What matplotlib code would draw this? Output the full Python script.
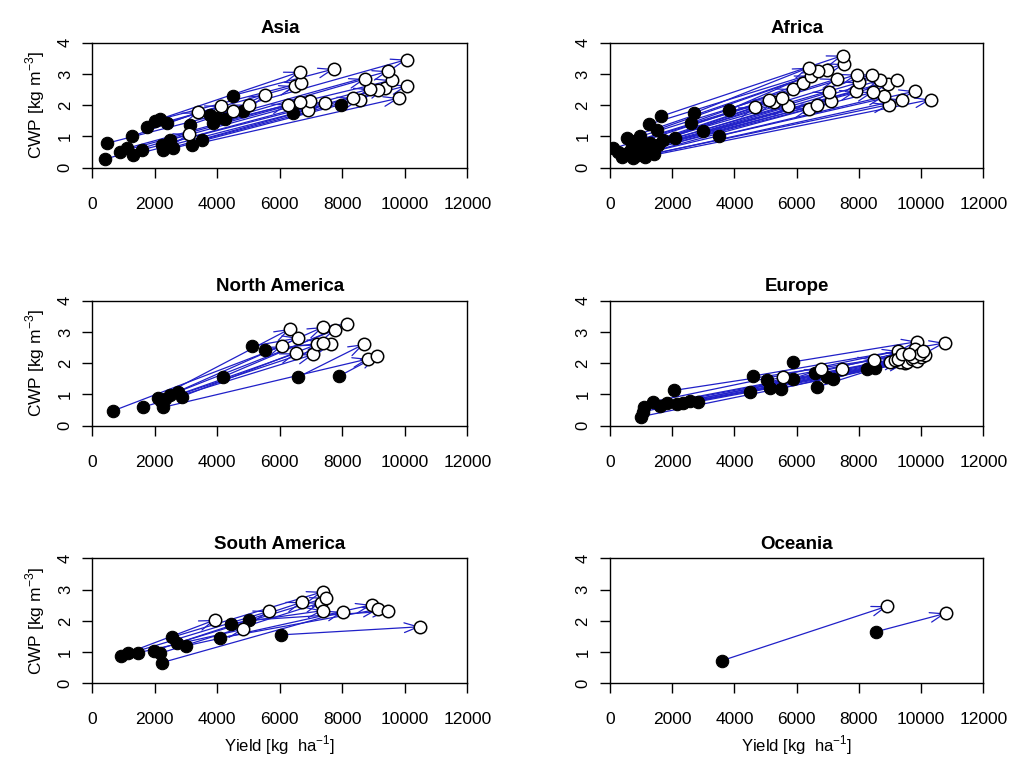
import numpy as np
import matplotlib
matplotlib.use("Agg")
import matplotlib.pyplot as plt
from matplotlib import font_manager

# current (black) -> potential (white) yield [kg/ha] and CWP [kg/m3], one arrow per site
asia_yield_now = [3179, 2592, 2272, 3499, 7957, 1312, 6432, 405, 1579, 2219, 2485, 885, 1099,
                  3872, 4245, 3125, 4832, 3979, 459, 1259, 3765, 2379, 1760, 2165, 4491, 2000]
asia_cwp_now = [0.73, 0.62, 0.57, 0.89, 2.02, 0.41, 1.75, 0.27, 0.57, 0.73, 0.89, 0.51, 0.62,
                1.43, 1.55, 1.37, 1.80, 1.59, 0.78, 1.00, 1.69, 1.43, 1.30, 1.55, 2.31, 1.50]
asia_yield_pot = [9824, 8565, 6912, 10080, 9365, 8352, 9152, 3104, 7445, 8885, 6965, 6645, 6251,
                  9579, 8725, 5024, 9472, 5536, 4512, 3392, 10059, 4117, 6485, 6667, 7733, 6645]
asia_cwp_pot = [2.23, 2.18, 1.85, 2.63, 2.55, 2.23, 2.50, 1.08, 2.07, 2.52, 2.12, 2.09, 2.02,
                2.80, 2.84, 2.02, 3.09, 2.34, 1.82, 1.77, 3.46, 1.98, 2.61, 2.71, 3.16, 3.07]

africa_yield_now = [1125, 1400, 750, 3514, 1339, 900, 375, 1018, 589, 1179, 1554, 400, 650, 3000,
                    2089, 268, 1286, 1714, 857, 1100, 696, 107, 800, 964, 2593, 536, 1500, 3836,
                    1254, 2700, 1629]
africa_cwp_now = [0.35, 0.45, 0.30, 1.02, 0.51, 0.40, 0.35, 0.51, 0.46, 0.62, 0.73, 0.45, 0.55, 1.16,
                  0.94, 0.51, 0.78, 0.89, 0.68, 0.75, 0.73, 0.62, 0.85, 1.00, 1.43, 0.94, 1.21, 1.86,
                  1.39, 1.75, 1.64]
africa_yield_pot = [10307, 8979, 9375, 9804, 8807, 6407, 8443, 6664, 7093, 8946, 7907, 9214, 5732,
                    8679, 7050, 8014, 4661, 5271, 5518, 8411, 5121, 7929, 7286, 5871, 6214, 6450,
                    6964, 6696, 7521, 6386, 7479]
africa_cwp_pot = [2.18, 2.02, 2.18, 2.45, 2.28, 1.88, 2.41, 2.02, 2.12, 2.69, 2.45, 2.82, 1.98,
                  2.80, 2.41, 2.73, 1.93, 2.09, 2.23, 2.98, 2.18, 2.98, 2.84, 2.52, 2.71, 2.95,
                  3.12, 3.09, 3.32, 3.20, 3.59]

namerica_yield_now = [651, 1611, 2112, 2272, 2325, 2485, 2752, 2859, 4171, 5099, 5525, 6592, 7904, 2200]
namerica_cwp_now = [0.47, 0.59, 0.90, 0.59, 0.84, 0.98, 1.09, 0.93, 1.56, 2.54, 2.43, 1.56, 1.59, 0.80]
namerica_yield_pot = [6059, 7072, 6325, 8832, 7627, 7392, 7765, 7179, 8160, 6592, 7392, 8693, 9099, 6517]
namerica_cwp_pot = [2.54, 2.28, 3.10, 2.14, 2.60, 3.16, 3.06, 2.60, 3.26, 2.81, 2.65, 2.61, 2.22, 2.32]

europe_yield_now = [996, 1050, 1093, 1393, 1607, 1821, 2057, 2164, 2357, 2571, 2839, 4500, 4607,
                    5036, 5143, 5486, 5871, 5893, 6589, 6664, 6964, 7179, 8250, 8518]
europe_cwp_now = [0.29, 0.45, 0.61, 0.77, 0.63, 0.72, 1.13, 0.68, 0.73, 0.80, 0.77, 1.09, 1.59,
                  1.45, 1.22, 1.19, 2.04, 1.51, 1.69, 1.24, 1.56, 1.51, 1.82, 1.86]
europe_yield_pot = [9482, 9321, 9407, 9268, 9000, 9150, 8486, 9550, 9700, 9250, 9857, 10000, 10768,
                    9400, 5571, 10125, 9879, 6771, 9800, 9750, 7446, 9950, 9600, 10050]
europe_cwp_pot = [2.01, 2.04, 2.18, 2.39, 2.04, 2.10, 2.11, 2.05, 2.15, 2.15, 2.08, 2.20, 2.65,
                  2.28, 1.55, 2.25, 2.69, 1.80, 2.45, 2.21, 1.80, 2.30, 2.30, 2.39]

samerica_yield_now = [907, 1152, 1472, 1973, 2165, 2219, 2539, 2699, 2997, 4085, 4427, 5024, 6027]
samerica_cwp_now = [0.87, 0.98, 0.98, 1.04, 0.96, 0.66, 1.47, 1.28, 1.20, 1.45, 1.91, 2.02, 1.55]
samerica_yield_pot = [5664, 3925, 4832, 6720, 7307, 8011, 7371, 7477, 8939, 9152, 7392, 9472, 10485]
samerica_cwp_pot = [2.31, 2.03, 1.73, 2.60, 2.58, 2.29, 2.93, 2.74, 2.51, 2.37, 2.33, 2.31, 1.81]

oceania_yield_now = [3611, 8550]
oceania_cwp_now = [0.73, 1.65]
oceania_yield_pot = [8914, 10789]
oceania_cwp_pot = [2.47, 2.24]

regions = ["Asia", "Africa", "North America", "Europe", "South America", "Oceania"]
panels = [
    (asia_yield_now, asia_cwp_now, asia_yield_pot, asia_cwp_pot),
    (africa_yield_now, africa_cwp_now, africa_yield_pot, africa_cwp_pot),
    (namerica_yield_now, namerica_cwp_now, namerica_yield_pot, namerica_cwp_pot),
    (europe_yield_now, europe_cwp_now, europe_yield_pot, europe_cwp_pot),
    (samerica_yield_now, samerica_cwp_now, samerica_yield_pot, samerica_cwp_pot),
    (oceania_yield_now, oceania_cwp_now, oceania_yield_pot, oceania_cwp_pot),
]
x_ticks = [0, 2000, 4000, 6000, 8000, 10000, 12000]
y_ticks = [0, 1, 2, 3, 4]

names = {f.name for f in font_manager.fontManager.ttflist}
main_font = "Liberation Sans" if "Liberation Sans" in names else "DejaVu Sans"
plt.rcParams["font.family"] = main_font
plt.rcParams["mathtext.fontset"] = "custom"
plt.rcParams["mathtext.rm"] = main_font

fig = plt.figure(figsize=(10.1, 7.64), dpi=100)
lefts = [0.0914, 0.6040]
widths = [0.3713, 0.3696]
bottoms = [0.7805, 0.4428, 0.1056]
h = 0.1636
arrow_col = "#2020c8"

for k, name in enumerate(regions):
    row, col = divmod(k, 2)
    ax = fig.add_axes([lefts[col], bottoms[row], widths[col], h])
    x0, y0, x1, y1 = panels[k]
    for a, b, c, d in zip(x0, y0, x1, y1):
        ax.annotate("", xy=(c, d), xytext=(a, b),
                    arrowprops=dict(arrowstyle="->,head_length=1.0,head_width=0.35",
                                    color=arrow_col, lw=0.9, shrinkA=0, shrinkB=0,
                                    mutation_scale=10),
                    zorder=1)
    ax.scatter(x0, y0, s=80, c="black", edgecolors="black", linewidths=0.8, zorder=2)
    ax.scatter(x1, y1, s=80, c="white", edgecolors="black", linewidths=1.1, zorder=3)

    ax.set_xlim(0, 12000)
    ax.set_ylim(0, 4)
    ax.set_xticks(x_ticks)
    ax.set_yticks(y_ticks)
    ax.set_xticklabels([str(t) for t in x_ticks], fontsize=12.5)
    ax.set_yticklabels([str(t) for t in y_ticks], fontsize=12, rotation=90, va="center")
    ax.tick_params(axis="x", direction="out", length=7, width=1, pad=14)
    ax.tick_params(axis="y", direction="out", length=7, width=1, pad=7)
    for sp in ax.spines.values():
        sp.set_linewidth(1.0)
    ax.set_title(name, fontsize=13.5, fontweight="bold", pad=7)
    if col == 0:
        ax.set_ylabel("CWP [kg m$^{-3}$]", fontsize=12.5, labelpad=8)
    if row == 2:
        ax.set_xlabel("Yield [kg  ha$^{-1}$]", fontsize=12, labelpad=4)

fig.savefig("out.png", dpi=100)
